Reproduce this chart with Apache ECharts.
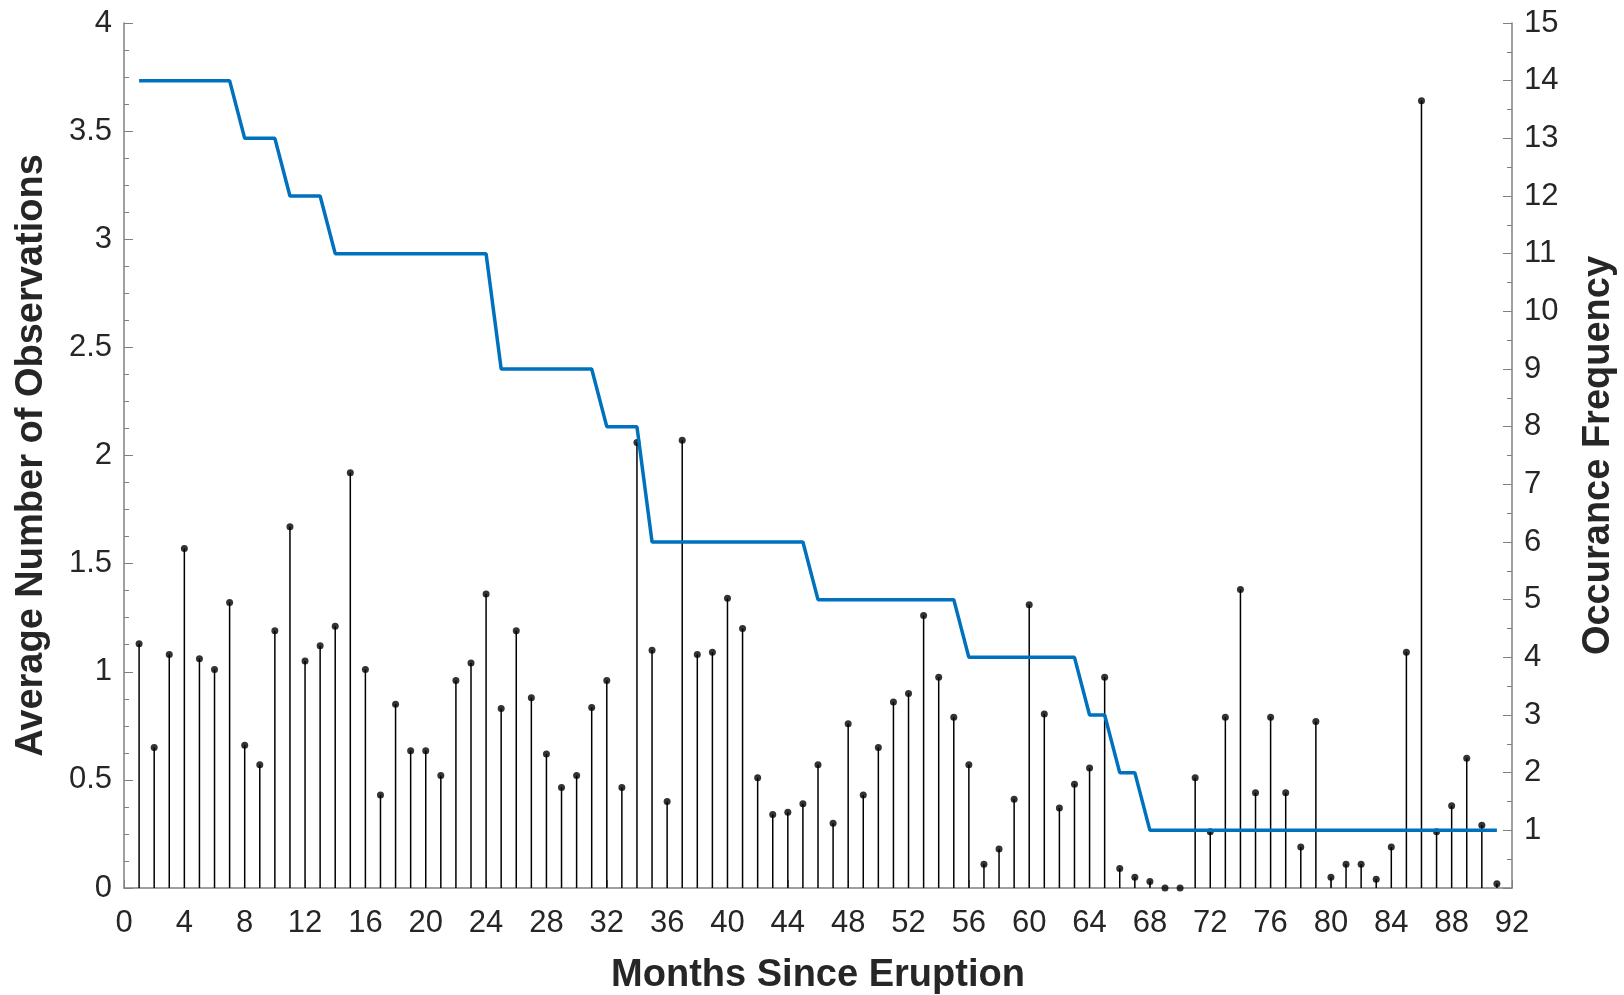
<!DOCTYPE html>
<html lang="en">
<head>
    <meta charset="UTF-8">
    <title>Average Observations vs Months Since Eruption</title>
    <script src="https://cdn.jsdelivr.net/npm/echarts@6.0.0/dist/echarts.min.js"></script>
    <style>
        html, body { margin: 0; padding: 0; background: #fff; }
    </style>
</head>
<body>
    <div id="main" style="width: 1624px; height: 995px;"></div>

    <script>
        // months 1..91, one value per month
        var avgObs = [
            1.13, 0.65, 1.08, 1.57, 1.06, 1.01, 1.32, 0.66, 0.57, 1.19,
            1.67, 1.05, 1.12, 1.21, 1.92, 1.01, 0.43, 0.85, 0.635, 0.635,
            0.52, 0.96, 1.04, 1.36, 0.83, 1.19, 0.88, 0.62, 0.465, 0.52,
            0.835, 0.96, 0.465, 2.06, 1.10, 0.40, 2.07, 1.08, 1.09, 1.34,
            1.20, 0.51, 0.34, 0.35, 0.39, 0.57, 0.30, 0.76, 0.43, 0.65,
            0.86, 0.90, 1.26, 0.975, 0.79, 0.57, 0.11, 0.18, 0.41, 1.31,
            0.805, 0.37, 0.48, 0.555, 0.975, 0.09, 0.05, 0.03, 0.0, 0.0,
            0.51, 0.26, 0.79, 1.38, 0.44, 0.79, 0.44, 0.19, 0.77, 0.05,
            0.11, 0.11, 0.04, 0.19, 1.09, 3.64, 0.26, 0.38, 0.60, 0.29,
            0.02
        ];

        var occurFreq = [
            14, 14, 14, 14, 14, 14, 14, 13, 13, 13,
            12, 12, 12, 11, 11, 11, 11, 11, 11, 11,
            11, 11, 11, 11, 9, 9, 9, 9, 9, 9,
            9, 8, 8, 8, 6, 6, 6, 6, 6, 6,
            6, 6, 6, 6, 6, 5, 5, 5, 5, 5,
            5, 5, 5, 5, 5, 4, 4, 4, 4, 4,
            4, 4, 4, 3, 3, 2, 2, 1, 1, 1,
            1, 1, 1, 1, 1, 1, 1, 1, 1, 1,
            1, 1, 1, 1, 1, 1, 1, 1, 1, 1,
            1
        ];

        var firstMonth = 1;

        var stemData = avgObs.map(function (v, i) { return [firstMonth + i, v]; });
        var freqData = occurFreq.map(function (v, i) { return [firstMonth + i, v]; });

        var axisGray = '#808080';
        var textDark = '#262626';
        var tickFont = '"Liberation Sans Narrow", "Liberation Sans", Arial, sans-serif';

        var chart = echarts.init(document.getElementById('main'));

        var option = {
            animation: false,
            backgroundColor: '#fff',
            grid: { left: 124, right: 112, top: 23, bottom: 107, outerBoundsMode: 'none', containLabel: false },
            xAxis: {
                type: 'value',
                min: 0, max: 92, interval: 4,
                name: 'Months Since Eruption',
                nameLocation: 'middle',
                nameGap: 69,
                nameTextStyle: { fontFamily: tickFont, fontWeight: 'bold', fontSize: 38, color: textDark },
                axisLine: { lineStyle: { color: axisGray, width: 1.5 } },
                axisTick: { inside: true, length: 8, lineStyle: { color: axisGray } },
                axisLabel: { fontFamily: tickFont, fontSize: 31, color: textDark, margin: 20 },
                splitLine: { show: false }
            },
            yAxis: [
                {
                    type: 'value',
                    min: 0, max: 4, interval: 0.5,
                    name: 'Average Number of Observations',
                    nameLocation: 'middle',
                    nameGap: 73,
                    nameTextStyle: { fontFamily: tickFont, fontWeight: 'bold', fontSize: 38, color: textDark },
                    axisLine: { show: true, lineStyle: { color: axisGray, width: 1.5 } },
                    axisTick: { inside: true, length: 9, lineStyle: { color: axisGray } },
                    minorTick: { show: true, splitNumber: 4, length: 5, lineStyle: { color: axisGray } },
                    axisLabel: { fontFamily: tickFont, fontSize: 31, color: textDark, margin: 12 },
                    splitLine: { show: false }
                },
                {
                    type: 'value',
                    min: 0, max: 15, interval: 1,
                    name: 'Occurance Frequency',
                    nameLocation: 'middle',
                    nameGap: 68,
                    nameRotate: 90,
                    nameTextStyle: { fontFamily: tickFont, fontWeight: 'bold', fontSize: 38, color: textDark },
                    axisLine: { show: true, lineStyle: { color: axisGray, width: 1.5 } },
                    axisTick: { inside: true, length: 9, lineStyle: { color: axisGray } },
                    minorTick: { show: true, splitNumber: 2, length: 5, lineStyle: { color: axisGray } },
                    axisLabel: {
                        fontFamily: tickFont, fontSize: 31, color: textDark, margin: 12,
                        formatter: function (v) { return v === 0 ? '' : v; }
                    },
                    splitLine: { show: false }
                }
            ],
            series: [
                {
                    name: 'stems',
                    type: 'bar',
                    yAxisIndex: 0,
                    barWidth: 1.5,
                    itemStyle: { color: '#000' },
                    data: stemData,
                    z: 2
                },
                {
                    name: 'Average Number of Observations',
                    type: 'scatter',
                    yAxisIndex: 0,
                    symbolSize: 7,
                    itemStyle: { color: '#000' },
                    data: stemData,
                    z: 3
                },
                {
                    name: 'Occurance Frequency',
                    type: 'line',
                    yAxisIndex: 1,
                    showSymbol: false,
                    lineStyle: { color: '#0072BD', width: 3.5 },
                    data: freqData,
                    z: 4
                }
            ]
        };

        chart.setOption(option);
    </script>
</body>
</html>
